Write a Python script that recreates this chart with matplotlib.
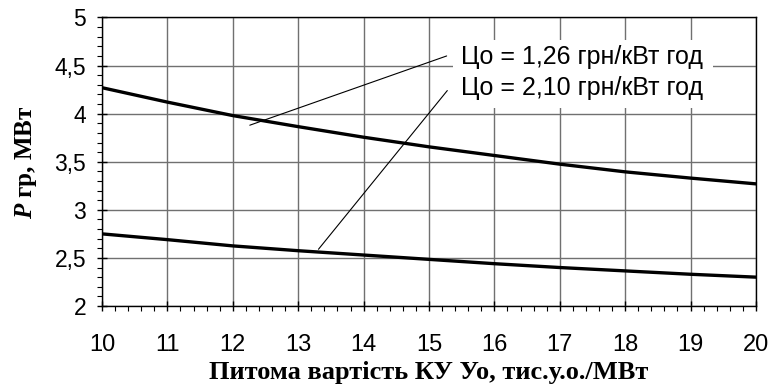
## Importing the dependencies.
import numpy as np
import matplotlib
matplotlib.use("Agg")
import matplotlib.pyplot as plt
from matplotlib.ticker import MultipleLocator, FuncFormatter
from matplotlib.patches import Rectangle

## Data
unit_cost = [10, 11, 12, 13, 14, 15, 16, 17, 18, 19, 20]
p_gr_126 = [4.27, 4.12, 3.98, 3.865, 3.755, 3.655, 3.565, 3.475, 3.395, 3.33, 3.27]
p_gr_210 = [2.75, 2.69, 2.625, 2.575, 2.53, 2.485, 2.44, 2.40, 2.365, 2.33, 2.30]
label_126 = "Цо = 1,26 грн/кВт год"
label_210 = "Цо = 2,10 грн/кВт год"
x_title = "Питома вартість КУ Уо, тис.у.о./МВт"
y_title = r"$\mathbfit{P}$ гр, МВт"

plt.rcParams['font.family'] = ['Liberation Sans', 'DejaVu Sans']
plt.rcParams['mathtext.fontset'] = 'custom'
plt.rcParams['mathtext.bfit'] = 'Liberation Serif:bold:italic'
plt.rcParams['mathtext.rm'] = 'Liberation Serif'


def comma_fmt(v, pos):
    return f"{v:g}".replace('.', ',')


fig = plt.figure(figsize=(7.74, 3.87), dpi=100)
ax = fig.add_axes([0.1318, 0.2093, 0.8449, 0.7455])

## Curves
ax.plot(unit_cost, p_gr_126, color='black', lw=2.4, zorder=3)
ax.plot(unit_cost, p_gr_210, color='black', lw=2.4, zorder=3)

ax.set_xlim(10, 20)
ax.set_ylim(2, 5)
ax.xaxis.set_major_locator(MultipleLocator(1))
ax.xaxis.set_minor_locator(MultipleLocator(0.2))
ax.yaxis.set_major_locator(MultipleLocator(0.5))
ax.yaxis.set_minor_locator(MultipleLocator(0.1))
ax.yaxis.set_major_formatter(FuncFormatter(comma_fmt))
ax.xaxis.set_major_formatter(FuncFormatter(comma_fmt))

ax.grid(True, which='major', color='#707070', lw=1.0, zorder=0)
ax.set_axisbelow(True)
for s in ax.spines.values():
    s.set_color('black')
    s.set_linewidth(1.0)

ax.tick_params(which='major', direction='inout', length=7, width=1.0, colors='black')
ax.tick_params(which='minor', direction='out', length=3.5, width=0.8)
ax.tick_params(axis='y', which='major', pad=8, labelsize=16.5)
ax.tick_params(axis='x', which='major', pad=17, labelsize=17)

## Axis titles
ax.set_xlabel(x_title, fontsize=19, fontweight='bold', family='Liberation Serif', labelpad=3)
ax.set_ylabel(y_title, fontsize=18, fontweight='bold', family='Liberation Serif')
ax.yaxis.set_label_coords(-0.097, 0.5)

## Label box, leader lines and labels
ax.add_patch(Rectangle((15.37, 4.06), 3.97, 0.71, facecolor='white', edgecolor='none', zorder=2))
ax.annotate('', xy=(12.26, 3.88), xytext=(15.27, 4.60),
            arrowprops=dict(arrowstyle='-', color='black', lw=0.8, shrinkA=0, shrinkB=0), zorder=4)
ax.annotate('', xy=(13.31, 2.59), xytext=(15.28, 4.24),
            arrowprops=dict(arrowstyle='-', color='black', lw=0.8, shrinkA=0, shrinkB=0), zorder=4)
ax.text(15.49, 4.585, label_126, fontsize=18, va='center', ha='left', zorder=4)
ax.text(15.49, 4.27, label_210, fontsize=18, va='center', ha='left', zorder=4)

fig.savefig('out.png', dpi=100)
